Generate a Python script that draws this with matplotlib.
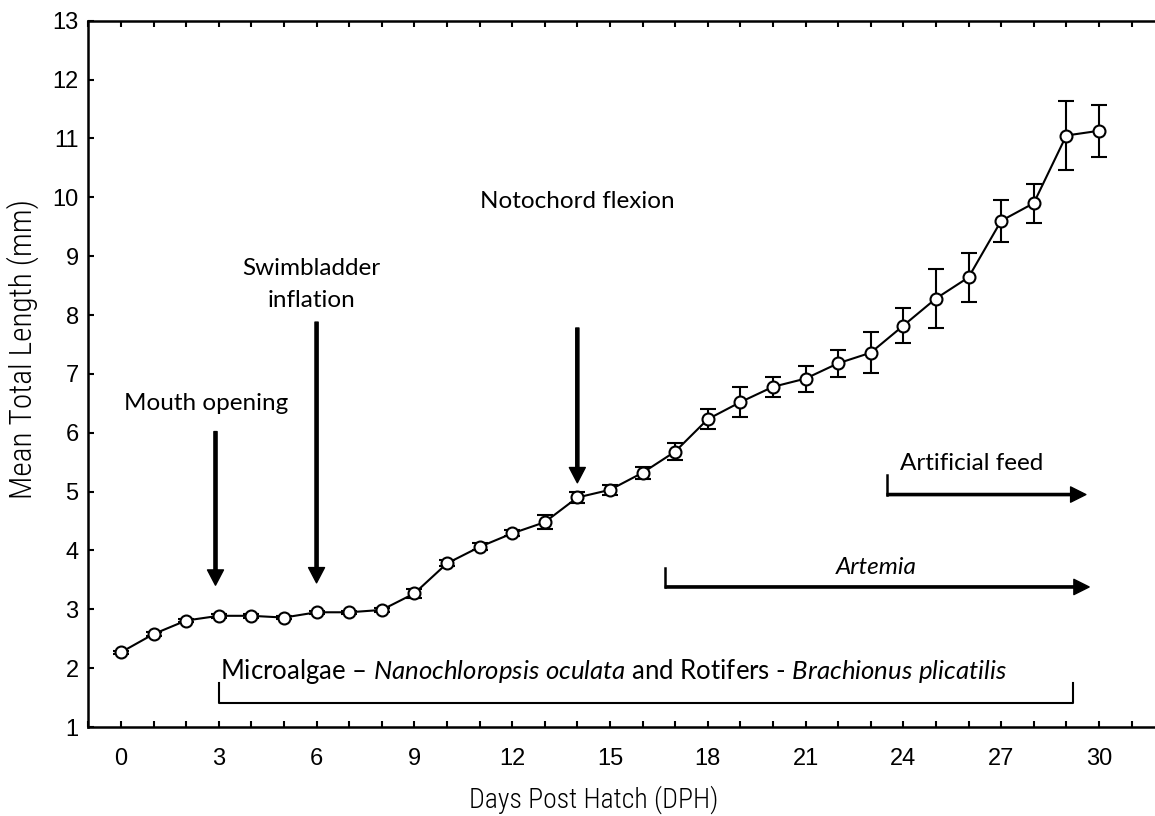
import numpy as np
import matplotlib
matplotlib.use("Agg")
import matplotlib.pyplot as plt
from matplotlib.ticker import MultipleLocator

# days post hatch, mean total length (mm) and error
dph = list(range(0, 31))
length = [2.27, 2.58, 2.81, 2.89, 2.89, 2.86, 2.95, 2.95, 2.99, 3.27,
          3.78, 4.06, 4.29, 4.48, 4.90, 5.03, 5.32, 5.68, 6.23, 6.52,
          6.78, 6.92, 7.18, 7.36, 7.82, 8.28, 8.64, 9.60, 9.90, 11.05,
          11.13]
err = [0.03, 0.03, 0.03, 0.03, 0.03, 0.03, 0.03, 0.03, 0.04, 0.08,
       0.05, 0.06, 0.05, 0.12, 0.09, 0.09, 0.10, 0.15, 0.17, 0.25,
       0.17, 0.22, 0.23, 0.35, 0.30, 0.50, 0.42, 0.36, 0.33, 0.58,
       0.44]

# developmental events: label, day
events = ["Mouth opening", "Swimbladder\ninflation", "Notochord flexion"]
event_days = [2.9, 6.0, 14.0]

# feeding periods: start day, end day
feed_labels = ["Artificial feed", "Artemia"]
feed_start = [23.5, 16.7]
feed_end = [29.6, 29.7]
algae_start, algae_end = 3.0, 29.2

plt.rcParams["font.family"] = ["Liberation Sans", "DejaVu Sans"]
plt.rcParams["mathtext.fontset"] = "custom"
plt.rcParams["mathtext.rm"] = "Lato"
plt.rcParams["mathtext.it"] = "Lato:italic"

ann_font = ["Lato", "DejaVu Sans"]
ann_size = 17.5
label_font = ["Roboto Condensed", "Liberation Sans"]

fig = plt.figure(figsize=(11.55, 8.16), dpi=100)
ax = fig.add_axes([0.0765, 0.109, 0.9314, 0.8656])

ax.errorbar(dph, length, yerr=err, color="black", lw=1.5, marker="o",
            ms=8.6, mfc="white", mec="black", mew=1.5,
            capsize=6, capthick=1.5, elinewidth=1.5, zorder=3)

ax.set_xlim(-1, 32)
ax.set_ylim(1, 13)
ax.xaxis.set_major_locator(MultipleLocator(3))
ax.xaxis.set_minor_locator(MultipleLocator(1))
ax.yaxis.set_major_locator(MultipleLocator(1))
ax.tick_params(which="both", direction="in", top=True, right=False,
               length=4, width=1.5, labelsize=17)
ax.tick_params(axis="x", pad=15)
ax.tick_params(axis="y", pad=7)
for s in ["left", "bottom", "top"]:
    ax.spines[s].set_linewidth(1.8)
ax.spines["right"].set_visible(False)

ax.set_xlabel("Days Post Hatch (DPH)", family=label_font, fontsize=20, weight="light")
ax.xaxis.set_label_coords(0.47, -0.083)
ax.set_ylabel("Mean Total Length (mm)", family=label_font, fontsize=22.5, weight="light")
ax.yaxis.set_label_coords(-0.046, 0.535)

# event arrows
big_arrow = dict(facecolor="black", edgecolor="black", width=2.3,
                 headwidth=11.5, headlength=11, shrink=0)
ax.annotate("", xy=(event_days[0], 3.41), xytext=(event_days[0], 6.02),
            arrowprops=big_arrow)
ax.text(2.62, 6.49, events[0], ha="center", va="center", family=ann_font, fontsize=ann_size)
ax.annotate("", xy=(event_days[1], 3.45), xytext=(event_days[1], 7.88),
            arrowprops=big_arrow)
ax.text(5.83, 8.52, events[1], ha="center", va="center", family=ann_font,
        fontsize=ann_size, linespacing=1.6)
ax.annotate("", xy=(event_days[2], 5.15), xytext=(event_days[2], 7.78),
            arrowprops=big_arrow)
ax.text(14.0, 9.93, events[2], ha="center", va="center", family=ann_font, fontsize=ann_size)

# feeding regime arrows
feed_y = [4.95, 3.38]
feed_text_y = [5.47, 3.71]
feed_text_x = [26.1, 23.16]
feed_style = ["normal", "italic"]
small_arrow = dict(facecolor="black", edgecolor="black", width=1.6,
                   headwidth=11, headlength=11, shrink=0)
for i in range(2):
    ax.annotate("", xy=(feed_end[i], feed_y[i]), xytext=(feed_start[i], feed_y[i]),
                arrowprops=small_arrow)
    ax.plot([feed_start[i], feed_start[i]], [feed_y[i], feed_y[i] + 0.33],
            color="black", lw=1.8)
    ax.text(feed_text_x[i], feed_text_y[i], feed_labels[i], ha="center",
            va="center", family=ann_font, fontsize=ann_size, style=feed_style[i])

# microalgae / rotifer bracket
ax.plot([algae_start, algae_start, algae_end, algae_end],
        [1.75, 1.41, 1.41, 1.75], color="black", lw=1.5)
ax.text(15.1, 1.94,
        r"Microalgae – $\it{Nanochloropsis\ oculata}$ and Rotifers - $\it{Brachionus\ plicatilis}$",
        ha="center", va="center", family=ann_font, fontsize=18.5)

fig.savefig("out.png", dpi=100)
